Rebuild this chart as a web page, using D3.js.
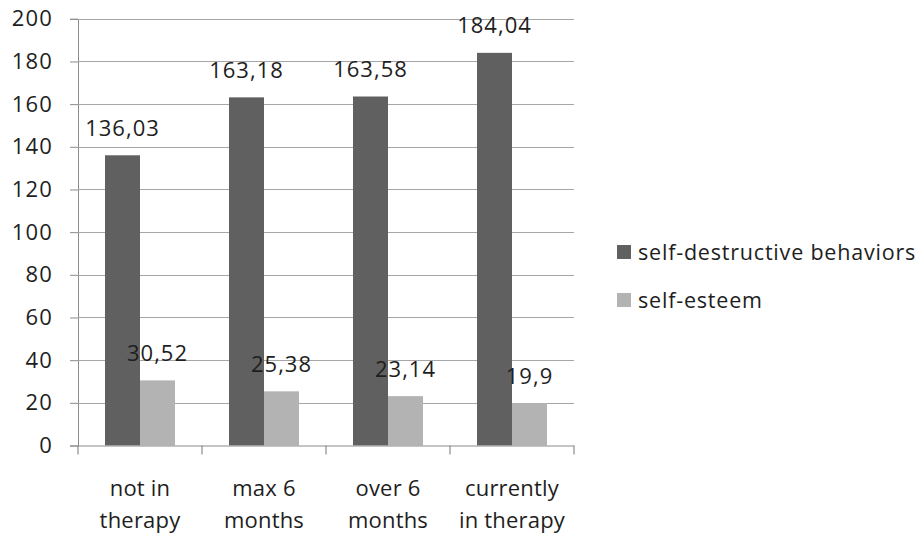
<!DOCTYPE html>
<html>
<head>
<meta charset="utf-8">
<script src="https://cdn.jsdelivr.net/npm/d3@7"></script>
<style>
  html, body { margin: 0; padding: 0; background: #fff; }
  svg { display: block; font-family: "Open Sans", sans-serif; }
</style>
</head>
<body>
<svg id="chart" width="921" height="537"></svg>
<script>
// Therapy status groups (each label split over two lines)
const categories = ["not in therapy", "max 6 months", "over 6 months", "currently in therapy"];
const categoryLines = [["not in", "therapy"], ["max 6", "months"], ["over 6", "months"], ["currently", "in therapy"]];
const seriesNames = ["self-destructive behaviors", "self-esteem"];
const selfDestructive = [136.03, 163.18, 163.58, 184.04];
const selfEsteem = [30.52, 25.38, 23.14, 19.9];
const yTicks = [0, 20, 40, 60, 80, 100, 120, 140, 160, 180, 200];

const colors = ["#606060", "#b3b3b3"];
const seriesValues = [selfDestructive, selfEsteem];
const textColor = "#1e1e1e";
const fontFamily = "'Open Sans', sans-serif";

const svg = d3.select("#chart");
const plot = { left: 78, right: 574, top: 18.8, bottom: 445.5 };

const x = d3.scaleBand().domain(categories).range([plot.left, plot.right]).paddingInner(0).paddingOuter(0);
const inner = d3.scaleBand().domain(seriesNames).range([27, x.bandwidth() - 27]).padding(0);
const y = d3.scaleLinear().domain([0, 200]).range([plot.bottom, plot.top]);

// Value axis with tick marks to the left
const yAxis = svg.append("g").attr("transform", `translate(${plot.left},0)`)
  .call(d3.axisLeft(y).tickValues(yTicks).tickSize(8).tickPadding(17).tickFormat(d3.format("d")));
yAxis.select(".domain").attr("stroke", "#8c8c8c");
yAxis.selectAll(".tick line").attr("stroke", "#8c8c8c");
yAxis.selectAll(".tick text").attr("font-size", 22).attr("letter-spacing", 1.2)
  .attr("fill", textColor).attr("font-family", fontFamily);

// Horizontal gridlines
svg.append("g").selectAll("line").data(yTicks.filter(d => d > 0)).join("line")
  .attr("x1", plot.left).attr("x2", plot.right)
  .attr("y1", d => Math.round(y(d)) + 0.5).attr("y2", d => Math.round(y(d)) + 0.5)
  .attr("stroke", "#a6a6a6").attr("stroke-width", 1.2);

// Bars and value labels
const groups = svg.append("g").selectAll("g").data(categories).join("g")
  .attr("transform", d => `translate(${x(d)},0)`);

seriesNames.forEach((name, si) => {
  groups.append("rect")
    .attr("x", inner(name))
    .attr("width", inner.bandwidth())
    .attr("y", (d, i) => y(seriesValues[si][i]))
    .attr("height", (d, i) => y(0) - y(seriesValues[si][i]))
    .attr("fill", colors[si]);

  groups.append("text")
    .attr("x", inner(name) + inner.bandwidth() / 2)
    .attr("y", (d, i) => y(seriesValues[si][i]) - 19.5)
    .attr("text-anchor", "middle")
    .attr("font-size", 22)
    .attr("letter-spacing", 1)
    .attr("fill", textColor)
    .text((d, i) => String(seriesValues[si][i]).replace(".", ","));
});

// Category axis
const xAxis = svg.append("g").attr("transform", `translate(0,${plot.bottom})`);
xAxis.append("line").attr("x1", plot.left).attr("x2", plot.right).attr("y1", 0.5).attr("y2", 0.5)
  .attr("stroke", "#8c8c8c").attr("stroke-width", 1.2);
const boundaries = categories.map(c => x(c)).concat([plot.right]);
xAxis.selectAll("line.tk").data(boundaries).join("line").attr("class", "tk")
  .attr("x1", d => d).attr("x2", d => d).attr("y1", 0).attr("y2", 9)
  .attr("stroke", "#8c8c8c").attr("stroke-width", 1.2);
xAxis.selectAll("text.cat").data(categories).join("text").attr("class", "cat")
  .attr("text-anchor", "middle")
  .attr("font-size", 22)
  .attr("letter-spacing", 0.2)
  .attr("fill", textColor)
  .attr("transform", d => `translate(${x(d) + x.bandwidth() / 2},0)`)
  .each(function(d, i) {
    const t = d3.select(this);
    categoryLines[i].forEach((line, li) => {
      t.append("tspan").attr("x", 0).attr("y", 50 + li * 32).text(line);
    });
  });

// Legend
const legend = svg.append("g").attr("transform", "translate(617,0)");
seriesNames.forEach((name, i) => {
  const cy = 252 + i * 48;
  legend.append("rect").attr("x", 0).attr("y", cy - 7).attr("width", 14).attr("height", 14).attr("fill", colors[i]);
  legend.append("text").attr("x", 21).attr("y", cy + 7.5).attr("font-size", 21.5)
    .attr("letter-spacing", 0.8).attr("fill", textColor).text(name);
});
</script>
</body>
</html>
